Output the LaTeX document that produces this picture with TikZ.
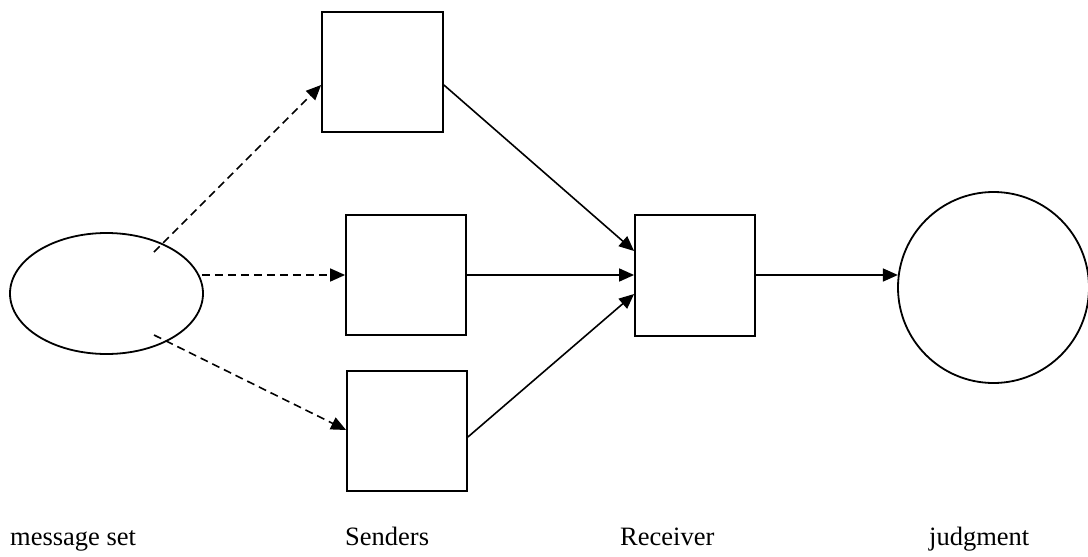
\documentclass[tikz,border=0pt]{standalone}
\usepackage{fontspec}
\setmainfont{Liberation Serif}
\usetikzlibrary{arrows.meta,calc,shapes.geometric}
\tikzset{
  shapeline/.style={draw=black, line width=1.8pt},
  boxnode/.style={shapeline, rectangle, minimum width=120pt, minimum height=120pt, inner sep=0pt},
  conn/.style={line width=1.6pt, -{Triangle[length=15pt,width=13pt]}},
  dashconn/.style={conn, dash pattern=on 8pt off 5pt},
  lbl/.style={anchor=base west, inner sep=0pt, font=\fontsize{26.5}{30}\selectfont}
}
\begin{document}
\begin{tikzpicture}[x=1pt,y=-1pt]
\useasboundingbox (0,0) rectangle (1088,557);
\fill[white] (0,0) rectangle (1088,557);
\node[shapeline, ellipse, minimum width=193pt, minimum height=121pt, inner sep=0pt] (e) at (106.5,293.5) {};
\node[boxnode, minimum width=121pt] (b1) at (382.5,72) {};
\node[boxnode] (b2) at (406,275) {};
\node[boxnode] (b3) at (407,431) {};
\node[boxnode, minimum height=121pt] (r) at (695,275.5) {};
\node[shapeline, circle, minimum size=191pt, inner sep=0pt] (c) at (993.5,287.5) {};
\coordinate (s1) at (154,252);
\coordinate (s3) at (154,335);
\draw[dashconn] (s1) -- ($(b1.west)+(0,13)$);
\draw[dashconn] ($(e.east)+(-2,-18.5)$) -- (b2.west);
\draw[dashconn] (s3) -- ($(b3.west)+(0,-1)$);
\draw[conn] ($(b1.east)+(0,13)$) -- ($(r.west)+(0,-24.5)$);
\draw[conn] (b2.east) -- ($(r.west)+(0,-0.5)$);
\draw[conn] ($(b3.east)+(0,6)$) -- ($(r.west)+(0,18.5)$);
\draw[conn] ($(r.east)+(0,-0.5)$) -- ($(c.west)+(0.8,-12.5)$);
\node[lbl] (l1) at (10,545) {message set};
\node[lbl] (l2) at (345,545) {Senders};
\node[lbl] (l3) at (620,545) {Receiver};
\node[lbl] (l4) at (929,545) {judgment};
\end{tikzpicture}
\end{document}
